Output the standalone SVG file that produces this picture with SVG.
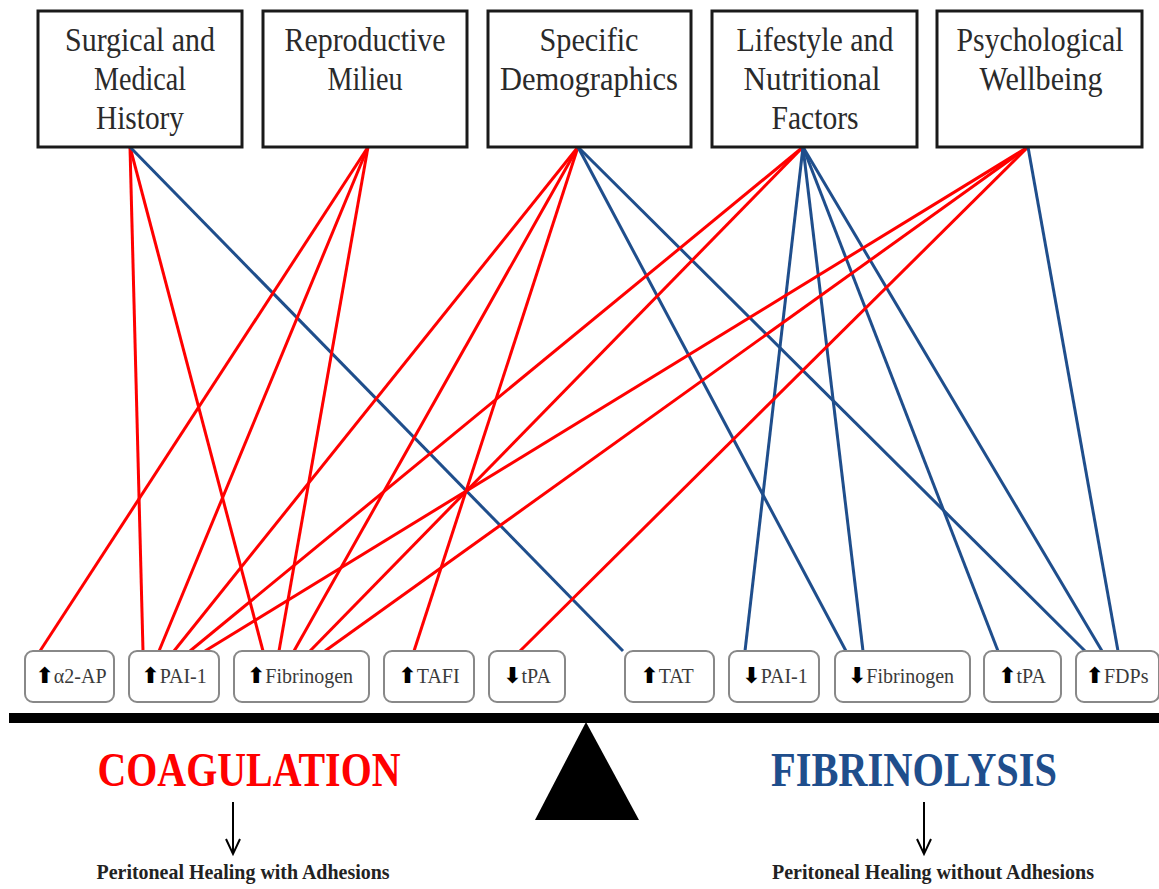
<svg xmlns="http://www.w3.org/2000/svg" width="1159" height="889" viewBox="0 0 1159 889">
<style>
.top rect{fill:#fff;stroke:#1a1a1a;stroke-width:3}
.top text{font-family:"Liberation Serif",serif;font-size:33px;fill:#2a2a2a;text-anchor:middle}
.bot rect{fill:#fff;stroke:#888;stroke-width:2}
.bot text{font-family:"Liberation Serif",serif;font-size:20px;fill:#3a3a3a;text-anchor:middle}
.ar{font-family:"DejaVu Sans",sans-serif;fill:#000;font-weight:bold;font-size:22px}
.r{stroke:#ff0000;stroke-width:3;fill:none}
.b{stroke:#1f4e8c;stroke-width:3;fill:none}
.big{font-family:"Liberation Serif",serif;font-weight:bold;font-size:48px;text-anchor:middle}
.res{font-family:"Liberation Serif",serif;font-weight:bold;font-size:22px;fill:#222;text-anchor:middle}
</style>
<rect width="1159" height="889" fill="#fff"/>
<g id="connectors">
<line class="r" x1="130" y1="147" x2="143" y2="651"/>
<line class="r" x1="130" y1="147" x2="263" y2="651"/>
<line class="b" x1="130" y1="147" x2="623" y2="651"/>
<line class="r" x1="368" y1="147" x2="40" y2="651"/>
<line class="r" x1="368" y1="147" x2="159" y2="651"/>
<line class="r" x1="368" y1="147" x2="279" y2="651"/>
<line class="r" x1="578" y1="147" x2="174" y2="651"/>
<line class="r" x1="578" y1="147" x2="294" y2="651"/>
<line class="r" x1="578" y1="147" x2="414" y2="651"/>
<line class="b" x1="578" y1="147" x2="846" y2="651"/>
<line class="b" x1="578" y1="147" x2="1085" y2="651"/>
<line class="r" x1="803" y1="147" x2="190" y2="651"/>
<line class="r" x1="803" y1="147" x2="310" y2="651"/>
<line class="b" x1="803" y1="147" x2="745" y2="651"/>
<line class="b" x1="803" y1="147" x2="863" y2="651"/>
<line class="b" x1="803" y1="147" x2="998" y2="651"/>
<line class="b" x1="803" y1="147" x2="1102" y2="651"/>
<line class="r" x1="1028" y1="147" x2="205" y2="651"/>
<line class="r" x1="1028" y1="147" x2="325" y2="651"/>
<line class="r" x1="1028" y1="147" x2="520" y2="651"/>
<line class="b" x1="1028" y1="147" x2="1118" y2="651"/>
</g>
<g class="top">
<g id="n-surgical"><rect x="38" y="11" width="204" height="136"/>
<text x="140" y="51" textLength="150" lengthAdjust="spacingAndGlyphs">Surgical and</text>
<text x="140" y="90" textLength="92" lengthAdjust="spacingAndGlyphs">Medical</text>
<text x="140" y="129" textLength="88" lengthAdjust="spacingAndGlyphs">History</text></g>
<g id="n-reproductive"><rect x="263" y="11" width="204" height="136"/>
<text x="365" y="51" textLength="161" lengthAdjust="spacingAndGlyphs">Reproductive</text>
<text x="365" y="90" textLength="75" lengthAdjust="spacingAndGlyphs">Milieu</text></g>
<g id="n-demographics"><rect x="488" y="11" width="203" height="136"/>
<text x="589" y="51" textLength="99" lengthAdjust="spacingAndGlyphs">Specific</text>
<text x="589" y="90" textLength="178" lengthAdjust="spacingAndGlyphs">Demographics</text></g>
<g id="n-lifestyle"><rect x="712" y="11" width="205" height="136"/>
<text x="815" y="51" textLength="157" lengthAdjust="spacingAndGlyphs">Lifestyle and</text>
<text x="812" y="90" textLength="137" lengthAdjust="spacingAndGlyphs">Nutritional</text>
<text x="815" y="129" textLength="87" lengthAdjust="spacingAndGlyphs">Factors</text></g>
<g id="n-psychological"><rect x="937" y="11" width="205" height="136"/>
<text x="1040" y="51" textLength="167" lengthAdjust="spacingAndGlyphs">Psychological</text>
<text x="1041" y="90" textLength="123" lengthAdjust="spacingAndGlyphs">Wellbeing</text></g>
</g>
<g class="bot">
<g id="b-a2ap"><rect x="25" y="651" width="89" height="51" rx="8"/><text x="71" y="683"><tspan class="ar">⬆</tspan>α2-AP</text></g>
<g id="b-pai1-up"><rect x="129" y="651" width="90" height="51" rx="8"/><text x="174" y="683"><tspan class="ar">⬆</tspan>PAI-1</text></g>
<g id="b-fib-up"><rect x="234" y="651" width="135" height="51" rx="8"/><text x="300" y="683"><tspan class="ar">⬆</tspan>Fibrinogen</text></g>
<g id="b-tafi"><rect x="384" y="651" width="90" height="51" rx="8"/><text x="429" y="683"><tspan class="ar">⬆</tspan>TAFI</text></g>
<g id="b-tpa-down"><rect x="489" y="651" width="76" height="51" rx="8"/><text x="527" y="683"><tspan class="ar">⬇</tspan>tPA</text></g>
<g id="b-tat"><rect x="625" y="651" width="89" height="51" rx="8"/><text x="667" y="683"><tspan class="ar">⬆</tspan>TAT</text></g>
<g id="b-pai1-down"><rect x="729" y="651" width="90" height="51" rx="8"/><text x="775" y="683"><tspan class="ar">⬇</tspan>PAI-1</text></g>
<g id="b-fib-down"><rect x="835" y="651" width="135" height="51" rx="8"/><text x="901" y="683"><tspan class="ar">⬇</tspan>Fibrinogen</text></g>
<g id="b-tpa-up"><rect x="984" y="651" width="77" height="51" rx="8"/><text x="1022" y="683"><tspan class="ar">⬆</tspan>tPA</text></g>
<g id="b-fdps"><rect x="1076" y="651" width="83" height="51" rx="8"/><text x="1117" y="683"><tspan class="ar">⬆</tspan>FDPs</text></g>
</g>
<g id="balance">
<rect x="9" y="713" width="1150" height="10" fill="#000"/>
<polygon points="586,722 535,820 639,820" fill="#000"/>
</g>
<g id="coagulation">
<text class="big" x="249" y="786" fill="#ff0000" textLength="303" lengthAdjust="spacingAndGlyphs">COAGULATION</text>
<line x1="233" y1="802" x2="233" y2="853" stroke="#000" stroke-width="2"/>
<polyline points="226,839 233,854 240,839" fill="none" stroke="#000" stroke-width="2"/>
<text class="res" x="243" y="879" textLength="293" lengthAdjust="spacingAndGlyphs">Peritoneal Healing with Adhesions</text>
</g>
<g id="fibrinolysis">
<text class="big" x="914" y="786" fill="#1f4e8c" textLength="286" lengthAdjust="spacingAndGlyphs">FIBRINOLYSIS</text>
<line x1="924" y1="802" x2="924" y2="853" stroke="#000" stroke-width="2"/>
<polyline points="917,839 924,854 931,839" fill="none" stroke="#000" stroke-width="2"/>
<text class="res" x="933" y="879" textLength="322" lengthAdjust="spacingAndGlyphs">Peritoneal Healing without Adhesions</text>
</g>
</svg>
